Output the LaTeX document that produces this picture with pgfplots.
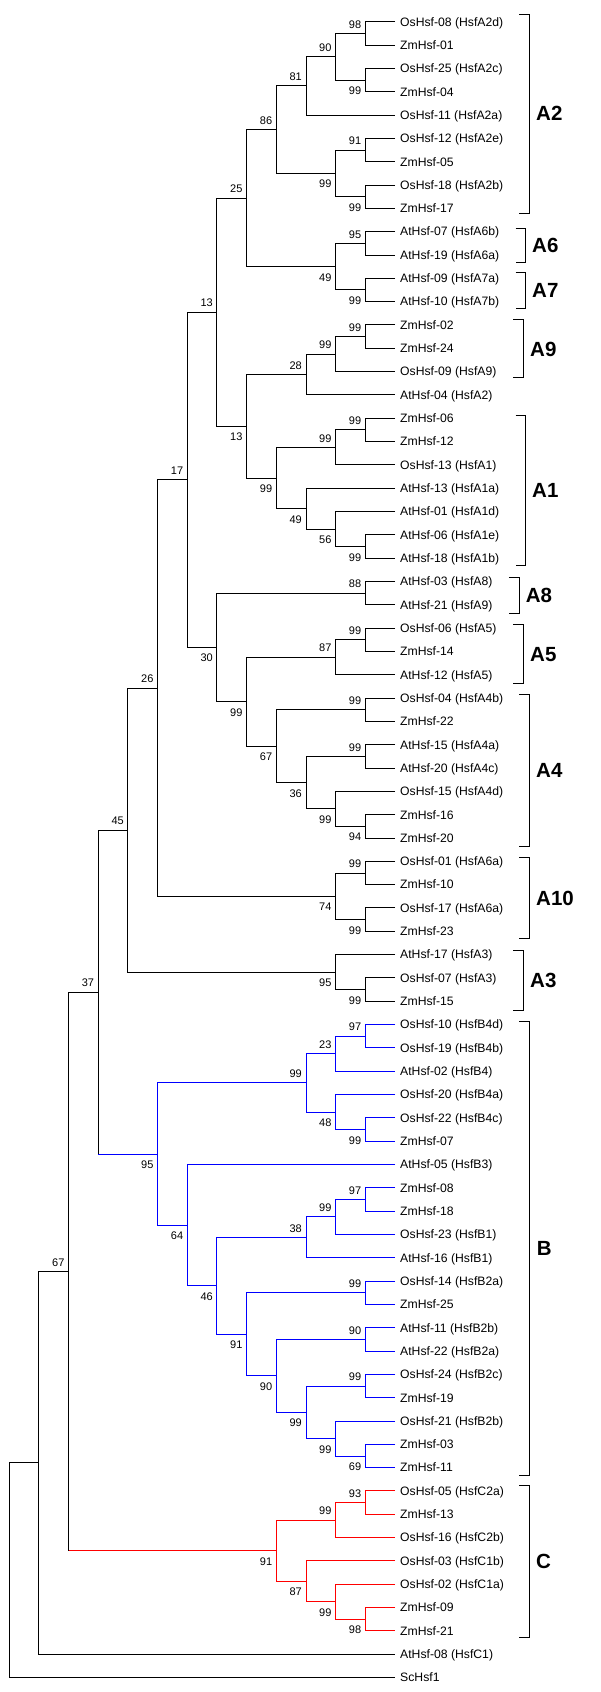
\documentclass[border=0pt]{standalone}
\usepackage{fontspec}
\setmainfont{Liberation Sans}
\usepackage{pgfplots}
\usepackage{pgfplotstable}
\pgfplotsset{compat=1.18}
\definecolor{bblue}{RGB}{0,0,255}
\definecolor{cred}{RGB}{255,0,0}
\pgfplotsset{
  br/.style={black, line width=1pt, line join=miter, mark=none},
  bb/.style={bblue, line width=1pt, line join=miter, mark=none},
  bc/.style={cred, line width=1pt, line join=miter, mark=none},
}

\pgfplotstableread[col sep=comma]{
x,y,label
13,1,OsHsf-08 (HsfA2d)
13,2,ZmHsf-01
13,3,OsHsf-25 (HsfA2c)
13,4,ZmHsf-04
13,5,OsHsf-11 (HsfA2a)
13,6,OsHsf-12 (HsfA2e)
13,7,ZmHsf-05
13,8,OsHsf-18 (HsfA2b)
13,9,ZmHsf-17
13,10,AtHsf-07 (HsfA6b)
13,11,AtHsf-19 (HsfA6a)
13,12,AtHsf-09 (HsfA7a)
13,13,AtHsf-10 (HsfA7b)
13,14,ZmHsf-02
13,15,ZmHsf-24
13,16,OsHsf-09 (HsfA9)
13,17,AtHsf-04 (HsfA2)
13,18,ZmHsf-06
13,19,ZmHsf-12
13,20,OsHsf-13 (HsfA1)
13,21,AtHsf-13 (HsfA1a)
13,22,AtHsf-01 (HsfA1d)
13,23,AtHsf-06 (HsfA1e)
13,24,AtHsf-18 (HsfA1b)
13,25,AtHsf-03 (HsfA8)
13,26,AtHsf-21 (HsfA9)
13,27,OsHsf-06 (HsfA5)
13,28,ZmHsf-14
13,29,AtHsf-12 (HsfA5)
13,30,OsHsf-04 (HsfA4b)
13,31,ZmHsf-22
13,32,AtHsf-15 (HsfA4a)
13,33,AtHsf-20 (HsfA4c)
13,34,OsHsf-15 (HsfA4d)
13,35,ZmHsf-16
13,36,ZmHsf-20
13,37,OsHsf-01 (HsfA6a)
13,38,ZmHsf-10
13,39,OsHsf-17 (HsfA6a)
13,40,ZmHsf-23
13,41,AtHsf-17 (HsfA3)
13,42,OsHsf-07 (HsfA3)
13,43,ZmHsf-15
13,44,OsHsf-10 (HsfB4d)
13,45,OsHsf-19 (HsfB4b)
13,46,AtHsf-02 (HsfB4)
13,47,OsHsf-20 (HsfB4a)
13,48,OsHsf-22 (HsfB4c)
13,49,ZmHsf-07
13,50,AtHsf-05 (HsfB3)
13,51,ZmHsf-08
13,52,ZmHsf-18
13,53,OsHsf-23 (HsfB1)
13,54,AtHsf-16 (HsfB1)
13,55,OsHsf-14 (HsfB2a)
13,56,ZmHsf-25
13,57,AtHsf-11 (HsfB2b)
13,58,AtHsf-22 (HsfB2a)
13,59,OsHsf-24 (HsfB2c)
13,60,ZmHsf-19
13,61,OsHsf-21 (HsfB2b)
13,62,ZmHsf-03
13,63,ZmHsf-11
13,64,OsHsf-05 (HsfC2a)
13,65,ZmHsf-13
13,66,OsHsf-16 (HsfC2b)
13,67,OsHsf-03 (HsfC1b)
13,68,OsHsf-02 (HsfC1a)
13,69,ZmHsf-09
13,70,ZmHsf-21
13,71,AtHsf-08 (HsfC1)
13,72,ScHsf1
}\leaves

\pgfplotstableread[col sep=comma]{
x,y,b
12,1.5,98
11,2.5,90
10,3.75,81
12,6.5,91
9,5.625,86
12,10.5,95
8,8.5625,25
12,14.5,99
11,15.25,99
10,16.125,28
12,18.5,99
11,19.25,99
7,13.453125,13
12,25.5,88
12,27.5,99
11,28.25,87
12,30.5,99
12,32.5,99
6,20.640625,17
12,37.5,99
5,29.5703125,26
4,35.66015625,45
12,44.5,97
11,45.25,23
10,46.5,99
12,51.5,97
11,52.25,99
10,53.125,38
12,55.5,99
12,57.5,90
12,59.5,99
3,42.60546875,37
12,64.5,93
11,65.25,99
2,54.583984375,67
}\bootabove

\pgfplotstableread[col sep=comma]{
x,y,b
12,3.5,99
12,8.5,99
11,7.5,99
12,12.5,99
11,11.5,49
12,23.5,99
11,22.75,56
10,21.875,49
9,20.5625,99
8,18.34375,13
12,35.5,94
11,34.75,99
10,33.625,36
9,32.0625,67
8,30.15625,99
7,27.828125,30
12,39.5,99
11,38.5,74
12,42.5,99
11,41.75,95
12,48.5,99
11,47.75,48
12,62.5,69
11,61.75,99
10,60.625,99
9,59.0625,90
8,57.28125,91
7,55.203125,46
6,52.6015625,64
5,49.55078125,95
12,69.5,98
11,68.75,99
10,67.875,87
9,66.5625,91
}\bootbelow

\pgfplotstableread[col sep=comma]{
x,y,label
17.752,4.94,A2
17.617,10.59,A6
17.617,12.52,A7
17.55,15.02,A9
17.617,21.10,A1
17.405,25.59,A8
17.55,28.10,A5
17.752,33.11,A4
17.752,38.57,A10
17.55,42.09,A3
17.775,53.60,B
17.752,67.02,C
}\clades

\begin{document}
\begin{tikzpicture}
\begin{axis}[
  scale only axis, width=600pt, height=1692pt,
  xmin=-0.3134, xmax=19.909, ymin=0.0652, ymax=72.62,
  y dir=reverse, hide axis, clip=false,
]
\addplot[draw=none, mark=none, forget plot] coordinates {(-0.3134,0.0652) (19.909,72.62)};

% ---- black part of the tree (clade A and basal branches)
\addplot[br] coordinates {(13,1)(12,1)(12,2)(13,2)};
\addplot[br] coordinates {(13,3)(12,3)(12,4)(13,4)};
\addplot[br] coordinates {(12,1.5)(11,1.5)(11,3.5)(12,3.5)};
\addplot[br] coordinates {(11,2.5)(10,2.5)(10,5)(13,5)};
\addplot[br] coordinates {(13,6)(12,6)(12,7)(13,7)};
\addplot[br] coordinates {(13,8)(12,8)(12,9)(13,9)};
\addplot[br] coordinates {(12,6.5)(11,6.5)(11,8.5)(12,8.5)};
\addplot[br] coordinates {(10,3.75)(9,3.75)(9,7.5)(11,7.5)};
\addplot[br] coordinates {(13,10)(12,10)(12,11)(13,11)};
\addplot[br] coordinates {(13,12)(12,12)(12,13)(13,13)};
\addplot[br] coordinates {(12,10.5)(11,10.5)(11,12.5)(12,12.5)};
\addplot[br] coordinates {(9,5.625)(8,5.625)(8,11.5)(11,11.5)};
\addplot[br] coordinates {(13,14)(12,14)(12,15)(13,15)};
\addplot[br] coordinates {(12,14.5)(11,14.5)(11,16)(13,16)};
\addplot[br] coordinates {(11,15.25)(10,15.25)(10,17)(13,17)};
\addplot[br] coordinates {(13,18)(12,18)(12,19)(13,19)};
\addplot[br] coordinates {(12,18.5)(11,18.5)(11,20)(13,20)};
\addplot[br] coordinates {(13,23)(12,23)(12,24)(13,24)};
\addplot[br] coordinates {(13,22)(11,22)(11,23.5)(12,23.5)};
\addplot[br] coordinates {(13,21)(10,21)(10,22.75)(11,22.75)};
\addplot[br] coordinates {(11,19.25)(9,19.25)(9,21.875)(10,21.875)};
\addplot[br] coordinates {(10,16.125)(8,16.125)(8,20.5625)(9,20.5625)};
\addplot[br] coordinates {(8,8.5625)(7,8.5625)(7,18.34375)(8,18.34375)};
\addplot[br] coordinates {(13,25)(12,25)(12,26)(13,26)};
\addplot[br] coordinates {(13,27)(12,27)(12,28)(13,28)};
\addplot[br] coordinates {(12,27.5)(11,27.5)(11,29)(13,29)};
\addplot[br] coordinates {(13,30)(12,30)(12,31)(13,31)};
\addplot[br] coordinates {(13,32)(12,32)(12,33)(13,33)};
\addplot[br] coordinates {(13,35)(12,35)(12,36)(13,36)};
\addplot[br] coordinates {(13,34)(11,34)(11,35.5)(12,35.5)};
\addplot[br] coordinates {(12,32.5)(10,32.5)(10,34.75)(11,34.75)};
\addplot[br] coordinates {(12,30.5)(9,30.5)(9,33.625)(10,33.625)};
\addplot[br] coordinates {(11,28.25)(8,28.25)(8,32.0625)(9,32.0625)};
\addplot[br] coordinates {(12,25.5)(7,25.5)(7,30.15625)(8,30.15625)};
\addplot[br] coordinates {(7,13.453125)(6,13.453125)(6,27.828125)(7,27.828125)};
\addplot[br] coordinates {(13,37)(12,37)(12,38)(13,38)};
\addplot[br] coordinates {(13,39)(12,39)(12,40)(13,40)};
\addplot[br] coordinates {(12,37.5)(11,37.5)(11,39.5)(12,39.5)};
\addplot[br] coordinates {(6,20.640625)(5,20.640625)(5,38.5)(11,38.5)};
\addplot[br] coordinates {(13,42)(12,42)(12,43)(13,43)};
\addplot[br] coordinates {(13,41)(11,41)(11,42.5)(12,42.5)};
\addplot[br] coordinates {(5,29.5703125)(4,29.5703125)(4,41.75)(11,41.75)};
\addplot[br] coordinates {(4,35.66015625)(3,35.66015625)(3,49.55078125)};
\addplot[br] coordinates {(3,42.60546875)(2,42.60546875)(2,66.5625)};
\addplot[br] coordinates {(2,54.583984375)(1,54.583984375)(1,71)(13,71)};
\addplot[br] coordinates {(1,62.7919921875)(0,62.7919921875)(0,72)(13,72)};

% ---- clade B (blue)
\addplot[bb] coordinates {(3,49.55078125)(5,49.55078125)};
\addplot[bb] coordinates {(13,44)(12,44)(12,45)(13,45)};
\addplot[bb] coordinates {(12,44.5)(11,44.5)(11,46)(13,46)};
\addplot[bb] coordinates {(13,48)(12,48)(12,49)(13,49)};
\addplot[bb] coordinates {(13,47)(11,47)(11,48.5)(12,48.5)};
\addplot[bb] coordinates {(11,45.25)(10,45.25)(10,47.75)(11,47.75)};
\addplot[bb] coordinates {(13,51)(12,51)(12,52)(13,52)};
\addplot[bb] coordinates {(12,51.5)(11,51.5)(11,53)(13,53)};
\addplot[bb] coordinates {(11,52.25)(10,52.25)(10,54)(13,54)};
\addplot[bb] coordinates {(13,55)(12,55)(12,56)(13,56)};
\addplot[bb] coordinates {(13,57)(12,57)(12,58)(13,58)};
\addplot[bb] coordinates {(13,59)(12,59)(12,60)(13,60)};
\addplot[bb] coordinates {(13,62)(12,62)(12,63)(13,63)};
\addplot[bb] coordinates {(13,61)(11,61)(11,62.5)(12,62.5)};
\addplot[bb] coordinates {(12,59.5)(10,59.5)(10,61.75)(11,61.75)};
\addplot[bb] coordinates {(12,57.5)(9,57.5)(9,60.625)(10,60.625)};
\addplot[bb] coordinates {(12,55.5)(8,55.5)(8,59.0625)(9,59.0625)};
\addplot[bb] coordinates {(10,53.125)(7,53.125)(7,57.28125)(8,57.28125)};
\addplot[bb] coordinates {(13,50)(6,50)(6,55.203125)(7,55.203125)};
\addplot[bb] coordinates {(10,46.5)(5,46.5)(5,52.6015625)(6,52.6015625)};

% ---- clade C (red)
\addplot[bc] coordinates {(2,66.5625)(9,66.5625)};
\addplot[bc] coordinates {(13,64)(12,64)(12,65)(13,65)};
\addplot[bc] coordinates {(12,64.5)(11,64.5)(11,66)(13,66)};
\addplot[bc] coordinates {(13,69)(12,69)(12,70)(13,70)};
\addplot[bc] coordinates {(13,68)(11,68)(11,69.5)(12,69.5)};
\addplot[bc] coordinates {(13,67)(10,67)(10,68.75)(11,68.75)};
\addplot[bc] coordinates {(11,65.25)(9,65.25)(9,67.875)(10,67.875)};

% ---- clade brackets
\addplot[br] coordinates {(17.189,0.6655)(17.526,0.6655)(17.526,9.212)(17.189,9.212)};
\addplot[br] coordinates {(17.068,9.876)(17.405,9.876)(17.405,11.300)(17.068,11.300)};
\addplot[br] coordinates {(17.068,11.763)(17.405,11.763)(17.405,13.277)(17.068,13.277)};
\addplot[br] coordinates {(16.987,13.783)(17.324,13.783)(17.324,16.262)(16.987,16.262)};
\addplot[br] coordinates {(17.068,17.887)(17.405,17.887)(17.405,24.315)(17.068,24.315)};
\addplot[br] coordinates {(16.841,24.821)(17.179,24.821)(17.179,26.356)(16.841,26.356)};
\addplot[br] coordinates {(16.987,26.840)(17.324,26.840)(17.324,29.362)(16.987,29.362)};
\addplot[br] coordinates {(17.189,29.847)(17.526,29.847)(17.526,36.373)(17.189,36.373)};
\addplot[br] coordinates {(17.189,36.832)(17.526,36.832)(17.526,40.314)(17.189,40.314)};
\addplot[br] coordinates {(16.987,40.807)(17.324,40.807)(17.324,43.376)(16.987,43.376)};
\addplot[br] coordinates {(17.189,43.847)(17.526,43.847)(17.526,63.350)(17.189,63.350)};
\addplot[br] coordinates {(17.189,63.745)(17.526,63.745)(17.526,70.293)(17.189,70.293)};

% ---- leaf labels
\addplot[draw=none, mark=none, nodes near coords, point meta=explicit symbolic,
  nodes near coords style={anchor=base west, inner sep=0pt, xshift=5pt, yshift=-4.3pt,
    font=\fontsize{12.2}{14}\selectfont, text=black}]
  table[x=x, y=y, meta=label] {\leaves};

% ---- bootstrap values
\addplot[draw=none, mark=none, nodes near coords, point meta=explicit symbolic,
  nodes near coords style={anchor=base east, inner sep=0pt, xshift=-4pt, yshift=5.3pt,
    font=\fontsize{11}{13}\selectfont, text=black}]
  table[x=x, y=y, meta=b] {\bootabove};
\addplot[draw=none, mark=none, nodes near coords, point meta=explicit symbolic,
  nodes near coords style={anchor=base east, inner sep=0pt, xshift=-4pt, yshift=-14.5pt,
    font=\fontsize{11}{13}\selectfont, text=black}]
  table[x=x, y=y, meta=b] {\bootbelow};

% ---- clade names
\addplot[draw=none, mark=none, nodes near coords, point meta=explicit symbolic,
  nodes near coords style={anchor=base west, inner sep=0pt, yshift=-7.3pt,
    font=\fontsize{20.5}{24}\selectfont\bfseries, text=black}]
  table[x=x, y=y, meta=label] {\clades};
\end{axis}
\end{tikzpicture}
\end{document}
